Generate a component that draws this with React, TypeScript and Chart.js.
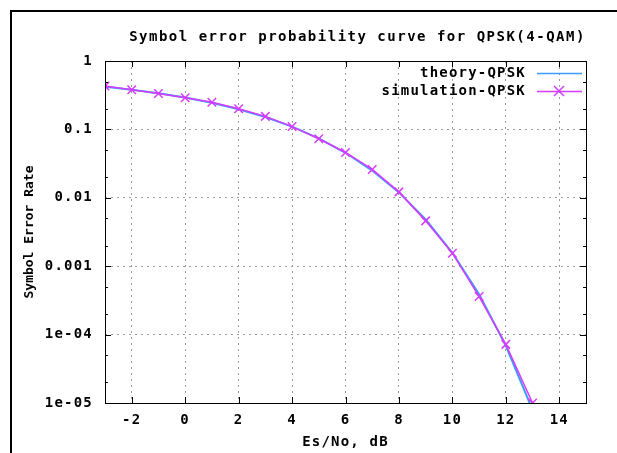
import React, { useEffect, useRef } from 'react';
import { Chart, registerables } from 'chart.js';

Chart.register(...registerables);

const snrDb = [-3, -2, -1, 0, 1, 2, 3, 4, 5, 6, 7, 8, 9, 10, 11, 12, 13];
const theorySer = [0.4216, 0.381, 0.338, 0.2922, 0.2447, 0.1972, 0.1516, 0.1098, 0.074, 0.0455, 0.025, 0.012, 0.00482, 0.00157, 0.000388, 0.0000686, 0.0000079];
const simSer = [0.43, 0.38, 0.335, 0.29, 0.25, 0.2, 0.155, 0.11, 0.073, 0.046, 0.026, 0.0122, 0.0046, 0.00155, 0.00036, 0.000072, 0.00001];
const xTickValues = [-2, 0, 2, 4, 6, 8, 10, 12, 14];
const yTickValues = [1e-5, 1e-4, 1e-3, 1e-2, 1e-1, 1];
const yTickLabels = ['1e-05', '1e-04', '0.001', '0.01', '0.1', '1'];
const minorMultiples = [2, 5];
const titleText = 'Symbol error probability curve for QPSK(4-QAM)';
const xTitle = 'Es/No, dB';
const yTitle = 'Symbol Error Rate';
const seriesLabels = ['theory-QPSK', 'simulation-QPSK'];

const FONT_FAMILY = "'DejaVu Sans Mono', 'Liberation Mono', monospace";
const SPACING = '1.2px';
const BLUE = '#3d9bff';
const MAGENTA = '#d63cff';

const decorPlugin = {
  id: 'decor',
  beforeLayout(chart: any) {
    chart.ctx.letterSpacing = SPACING;
  },
  beforeDraw(chart: any) {
    const ctx = chart.ctx;
    ctx.letterSpacing = SPACING;
    ctx.save();
    ctx.fillStyle = '#fff';
    ctx.fillRect(0, 0, chart.width, chart.height);
    ctx.restore();
  },
  afterDraw(chart: any) {
    const ctx = chart.ctx;
    const { left, right, top, bottom } = chart.chartArea;
    const xs = chart.scales.x;
    const ys = chart.scales.y;
    ctx.save();
    ctx.letterSpacing = SPACING;
    // outer frame
    ctx.fillStyle = '#000';
    ctx.fillRect(10, 10, chart.width, 2);
    ctx.fillRect(10, 10, 2, chart.height);
    // plot frame
    ctx.strokeStyle = '#000';
    ctx.lineWidth = 1;
    ctx.setLineDash([]);
    ctx.strokeRect(Math.round(left) + 0.5, Math.round(top) + 0.5, Math.round(right - left), Math.round(bottom - top));
    ctx.beginPath();
    for (const v of xTickValues) {
      const px = Math.round(xs.getPixelForValue(v)) + 0.5;
      ctx.moveTo(px, bottom);
      ctx.lineTo(px, bottom - 6);
      ctx.moveTo(px, top);
      ctx.lineTo(px, top + 6);
    }
    for (const v of yTickValues) {
      const py = Math.round(ys.getPixelForValue(v)) + 0.5;
      ctx.moveTo(left, py);
      ctx.lineTo(left + 6, py);
      ctx.moveTo(right, py);
      ctx.lineTo(right - 6, py);
    }
    for (let i = 0; i < yTickValues.length - 1; i++) {
      for (const m of minorMultiples) {
        const py = Math.round(ys.getPixelForValue(yTickValues[i] * m)) + 0.5;
        ctx.moveTo(left, py);
        ctx.lineTo(left + 3, py);
        ctx.moveTo(right, py);
        ctx.lineTo(right - 3, py);
      }
    }
    ctx.stroke();
    // title
    ctx.font = `bold 14px ${FONT_FAMILY}`;
    ctx.fillStyle = '#000';
    ctx.textAlign = 'center';
    ctx.textBaseline = 'middle';
    ctx.letterSpacing = '1.5px';
    ctx.fillText(titleText, (left + right) / 2 + 12, 37);
    // y axis title
    ctx.save();
    ctx.letterSpacing = '0px';
    ctx.font = `bold 13px ${FONT_FAMILY}`;
    ctx.translate(30, (top + bottom) / 2);
    ctx.rotate(-Math.PI / 2);
    ctx.fillText(yTitle, 0, 0);
    ctx.restore();
    ctx.letterSpacing = SPACING;
    ctx.font = `bold 14px ${FONT_FAMILY}`;
    // legend
    chart.data.datasets.forEach((ds: any, i: number) => {
      const y = top + 12 + i * 18;
      ctx.textAlign = 'right';
      ctx.textBaseline = 'middle';
      ctx.fillStyle = '#000';
      ctx.fillText(ds.label, right - 60, y);
      ctx.strokeStyle = ds.borderColor;
      ctx.lineWidth = 1.5;
      ctx.beginPath();
      ctx.moveTo(right - 49, y + 0.5);
      ctx.lineTo(right - 4, y + 0.5);
      ctx.stroke();
      if (ds.pointRadius > 0) {
        const cx = right - 27;
        const r = 5;
        ctx.lineWidth = 1.5;
        ctx.beginPath();
        ctx.moveTo(cx - r, y - r);
        ctx.lineTo(cx + r, y + r);
        ctx.moveTo(cx - r, y + r);
        ctx.lineTo(cx + r, y - r);
        ctx.stroke();
      }
    });
    ctx.restore();
  },
};

export default function App() {
  const canvasRef = useRef<HTMLCanvasElement | null>(null);

  useEffect(() => {
    const canvas = canvasRef.current;
    if (!canvas) return;
    const font = { family: FONT_FAMILY, size: 14, weight: 'bold' as const };
    const chart = new Chart(canvas, {
      type: 'line',
      data: {
        datasets: [
          {
            label: seriesLabels[0],
            data: snrDb.map((x, i) => ({ x, y: theorySer[i] })),
            borderColor: BLUE,
            backgroundColor: BLUE,
            borderWidth: 2,
            pointRadius: 0,
            tension: 0,
            order: 2,
          },
          {
            label: seriesLabels[1],
            data: snrDb.map((x, i) => ({ x, y: simSer[i] })),
            borderColor: MAGENTA,
            backgroundColor: MAGENTA,
            borderWidth: 1.5,
            pointRadius: 6,
            pointBorderWidth: 1.5,
            pointStyle: 'crossRot',
            tension: 0,
            order: 1,
          },
        ],
      },
      options: {
        responsive: false,
        animation: false,
        layout: { padding: { left: 0, right: 31, top: 61, bottom: 0 } },
        plugins: {
          legend: { display: false },
          title: { display: false },
          tooltip: { enabled: false },
        },
        scales: {
          x: {
            type: 'linear',
            min: -3,
            max: 15,
            afterBuildTicks: (s: any) => {
              s.ticks = xTickValues.map((v) => ({ value: v }));
            },
            afterFit: (s: any) => {
              s.height = 50;
            },
            grid: { color: '#9a9a9a', lineWidth: 1, drawTicks: false },
            border: { display: false, dash: [2, 4] },
            ticks: { font, color: '#000', padding: 9, autoSkip: false, maxRotation: 0 },
            title: { display: true, text: xTitle, font, color: '#000', padding: { top: 0, bottom: 2 } },
          },
          y: {
            type: 'logarithmic',
            min: 1e-5,
            max: 1,
            afterBuildTicks: (s: any) => {
              s.ticks = yTickValues.map((v) => ({ value: v }));
            },
            afterFit: (s: any) => {
              s.width = 105;
            },
            grid: { color: '#9a9a9a', lineWidth: 1, drawTicks: false },
            border: { display: false, dash: [2, 4] },
            ticks: {
              font,
              color: '#000',
              padding: 12,
              autoSkip: false,
              callback: (_v: any, i: number) => yTickLabels[i],
            },
            title: { display: false },
          },
        },
      },
      plugins: [decorPlugin],
    } as any);
    return () => chart.destroy();
  }, []);

  return (
    <div style={{ position: 'absolute', left: 0, top: 0, width: 617, height: 453, background: '#fff' }}>
      <canvas ref={canvasRef} width={617} height={453} style={{ width: 617, height: 453, display: 'block' }} />
    </div>
  );
}
